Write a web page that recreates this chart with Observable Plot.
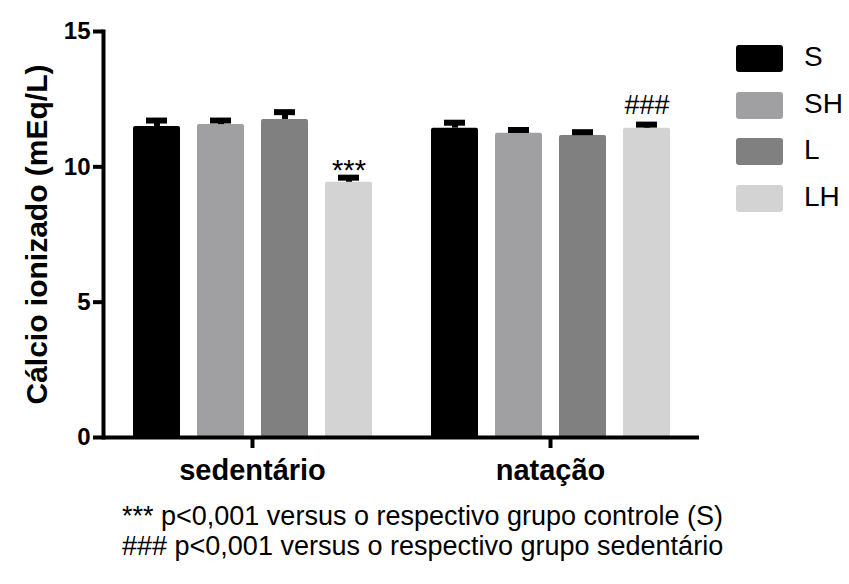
<!DOCTYPE html>
<html>
<head>
<meta charset="utf-8">
<script src="https://cdn.jsdelivr.net/npm/d3@7"></script>
<script src="https://cdn.jsdelivr.net/npm/@observablehq/plot@0.6"></script>
<style>
  html, body { margin: 0; padding: 0; background: #fff; }
  #wrap { position: relative; width: 849px; height: 584px; font-family: "Liberation Sans", Arial, sans-serif; }
  #legend { position: absolute; left: 736px; top: 45px; }
  .row { position: relative; height: 46.7px; }
  .sw { position: absolute; left: 0; top: 0; width: 47px; height: 27px; border-radius: 3px; }
  .lb { position: absolute; left: 68px; top: -5px; font-size: 28px; line-height: 34px; color: #000; }
  #caption { position: absolute; left: 122px; top: 501px; font-size: 27px; line-height: 30px; color: #000; white-space: nowrap; }
</style>
</head>
<body>
<div id="wrap"></div>
<script>
const groups = ["sedentário", "natação"];
const series = ["S", "SH", "L", "LH"];
const colors = ["#000000", "#a0a0a3", "#808080", "#d3d3d3"];
const meansSedentario = [11.49, 11.56, 11.75, 9.43];
const meansNatacao = [11.43, 11.24, 11.16, 11.43];
const semSedentario = [0.22, 0.15, 0.27, 0.17];
const semNatacao = [0.20, 0.12, 0.12, 0.13];
const starMark = {group: "sedentário", series: "LH", label: "***"};
const hashMark = {group: "natação", series: "LH", label: "###"};
const yTicks = [0, 5, 10, 15];
const yLabel = "Cálcio ionizado (mEq/L)";
const notes = [
  "*** p<0,001 versus o respectivo grupo controle (S)",
  "### p<0,001 versus o respectivo grupo sedentário"
];

const data = [];
groups.forEach((g, gi) => {
  const m = gi === 0 ? meansSedentario : meansNatacao;
  const s = gi === 0 ? semSedentario : semNatacao;
  series.forEach((k, i) => data.push({group: g, series: k, mean: m[i], sem: s[i], top: m[i] + s[i]}));
});
const withTop = a => {
  const d = data.find(r => r.group === a.group && r.series === a.series);
  return [{...a, top: d.top}];
};

const font = "Liberation Sans, Arial, sans-serif";
const plot = Plot.plot({
  width: 849,
  height: 500,
  marginLeft: 103,
  marginRight: 150,
  marginTop: 31,
  marginBottom: 63,
  style: {fontFamily: font, background: "transparent", color: "#000"},
  fx: {domain: groups, padding: 0, label: null},
  x: {domain: series, paddingInner: 0.266, paddingOuter: 0.461, axis: null},
  y: {domain: [0, 15], label: null},
  color: {domain: series, range: colors},
  marks: [
    Plot.barY(data, {fx: "group", x: "series", y: "mean", fill: "series", rx: 2}),
    Plot.ruleX(data, {fx: "group", x: "series", y1: "mean", y2: "top", stroke: "#000", strokeWidth: 6}),
    Plot.tickY(data, {fx: "group", x: "series", y: "top", stroke: "#000", strokeWidth: 6, insetLeft: 13, insetRight: 13}),
    Plot.text(withTop(starMark), {fx: "group", x: "series", y: "top", text: "label", dy: -7, fontSize: 29, fill: "#000"}),
    Plot.text(withTop(hashMark), {fx: "group", x: "series", y: "top", text: "label", dy: -19, fontSize: 27, fill: "#000"}),
    Plot.ruleY([0], {stroke: "#000", strokeWidth: 4}),
    Plot.frame({anchor: "left", facetAnchor: "left", stroke: "#000", strokeWidth: 4}),
    Plot.axisY({ticks: yTicks, tickSize: 10, tickPadding: 3, fontSize: 24, fontWeight: "bold", strokeWidth: 4, label: null}),
    Plot.axisFx({anchor: "bottom", tickSize: 11, tickPadding: 11, fontSize: 29, fontWeight: "bold", strokeWidth: 4, label: null}),
    Plot.text([yLabel], {frameAnchor: "left", textAnchor: "middle", dx: -66, rotate: -90, fontSize: 30, fontWeight: "bold", fill: "#000", facetAnchor: "left"})
  ]
});
const wrap = document.getElementById("wrap");
wrap.appendChild(plot);

const legend = document.createElement("div");
legend.id = "legend";
series.forEach((k, i) => {
  const row = document.createElement("div");
  row.className = "row";
  row.innerHTML = `<div class="sw" style="background:${colors[i]}"></div><div class="lb">${k}</div>`;
  legend.appendChild(row);
});
wrap.appendChild(legend);

const cap = document.createElement("div");
cap.id = "caption";
cap.innerHTML = notes.map(n => `<div>${n.replace(/</g, "&lt;")}</div>`).join("");
wrap.appendChild(cap);
</script>
</body>
</html>
